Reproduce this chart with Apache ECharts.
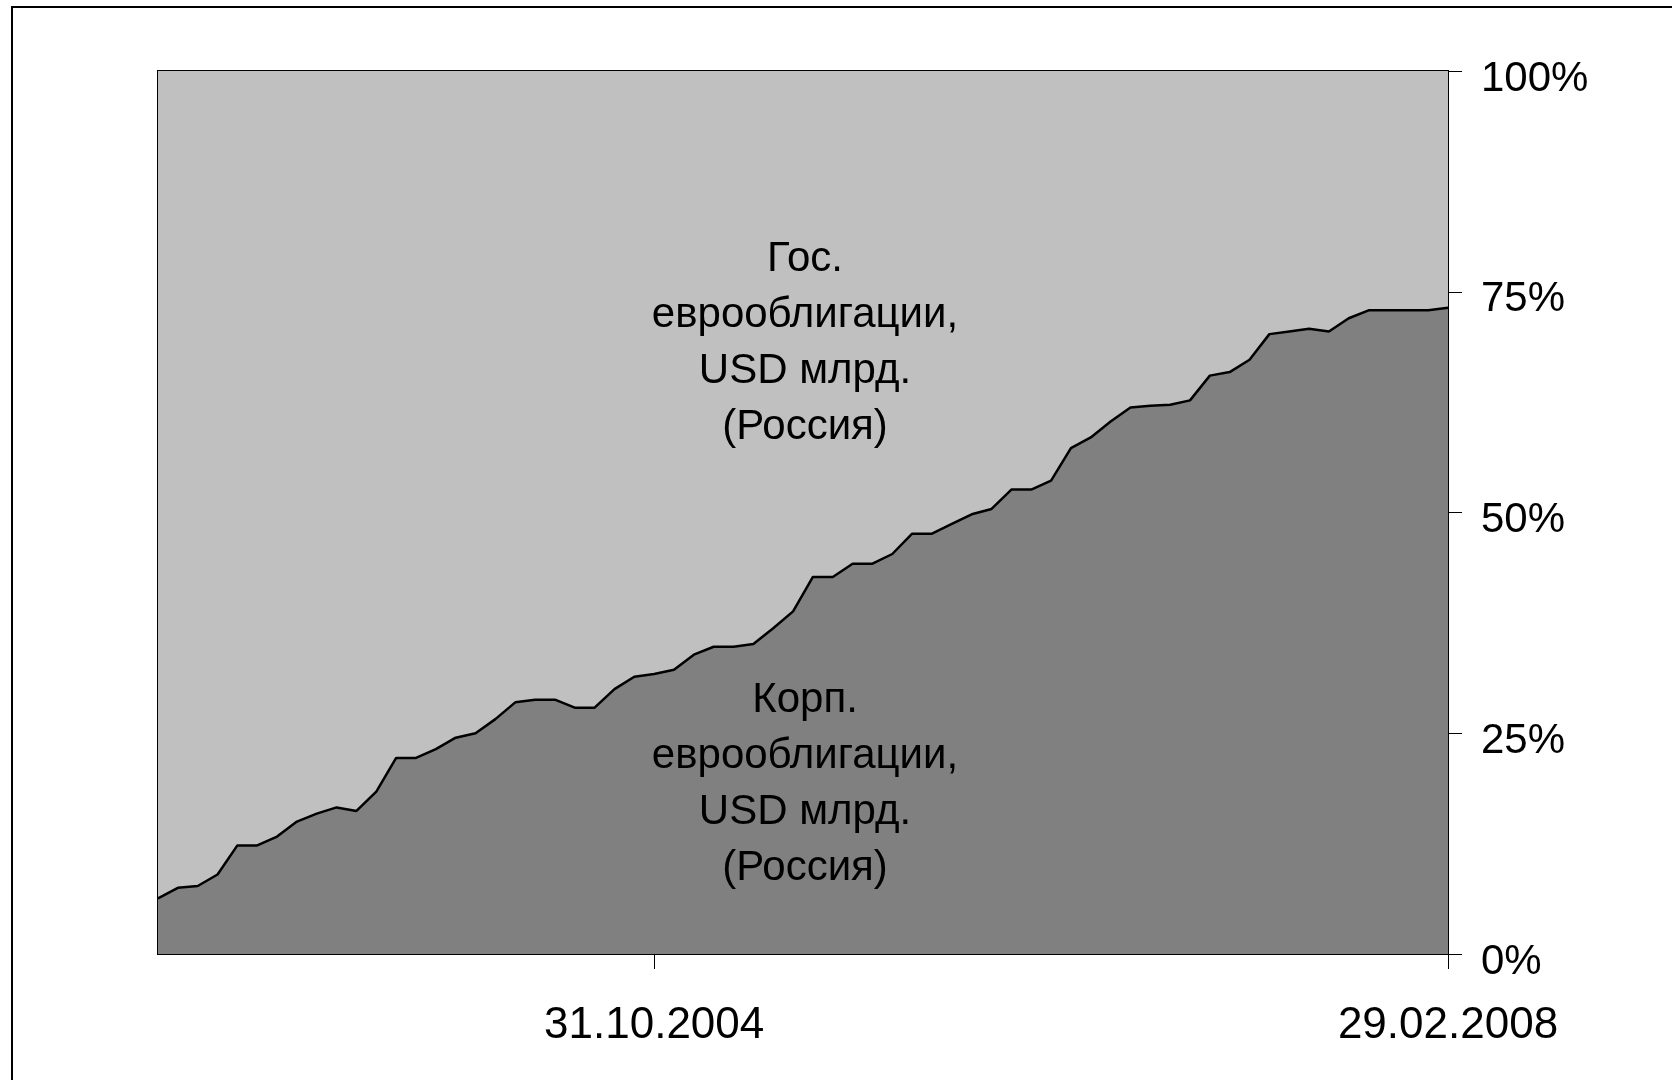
<!DOCTYPE html>
<html>
<head>
<meta charset="utf-8">
<title>Еврооблигации</title>
<script src="https://cdn.jsdelivr.net/npm/echarts@6/dist/echarts.min.js"></script>
<style>
  html, body { margin: 0; padding: 0; background: #fff; }
  #chart { width: 1672px; height: 1080px; }
</style>
</head>
<body>
<div id="chart"></div>
<script>
// month-end dates
const dates = [
  '30.09.2002', '31.10.2002', '30.11.2002', '31.12.2002',
  '31.01.2003', '28.02.2003', '31.03.2003', '30.04.2003', '31.05.2003', '30.06.2003',
  '31.07.2003', '31.08.2003', '30.09.2003', '31.10.2003', '30.11.2003', '31.12.2003',
  '31.01.2004', '29.02.2004', '31.03.2004', '30.04.2004', '31.05.2004', '30.06.2004',
  '31.07.2004', '31.08.2004', '30.09.2004', '31.10.2004', '30.11.2004', '31.12.2004',
  '31.01.2005', '28.02.2005', '31.03.2005', '30.04.2005', '31.05.2005', '30.06.2005',
  '31.07.2005', '31.08.2005', '30.09.2005', '31.10.2005', '30.11.2005', '31.12.2005',
  '31.01.2006', '28.02.2006', '31.03.2006', '30.04.2006', '31.05.2006', '30.06.2006',
  '31.07.2006', '31.08.2006', '30.09.2006', '31.10.2006', '30.11.2006', '31.12.2006',
  '31.01.2007', '28.02.2007', '31.03.2007', '30.04.2007', '31.05.2007', '30.06.2007',
  '31.07.2007', '31.08.2007', '30.09.2007', '31.10.2007', '30.11.2007', '31.12.2007',
  '31.01.2008', '29.02.2008'
]
// labelled dates on the x axis
const shownDates = ['31.10.2004', '29.02.2008']

// share of corporate eurobonds, %
const corpShare = [
  6.3, 7.5, 7.7, 9.0, 12.3, 12.3, 13.3, 15.0, 15.9, 16.6,
  16.2, 18.4, 22.2, 22.2, 23.2, 24.5, 25.0, 26.6, 28.5, 28.8,
  28.8, 27.9, 27.9, 30.0, 31.4, 31.7, 32.2, 33.9, 34.8, 34.8,
  35.1, 36.9, 38.8, 42.7, 42.7, 44.2, 44.2, 45.3, 47.6, 47.6,
  48.7, 49.8, 50.4, 52.6, 52.6, 53.6, 57.3, 58.5, 60.3, 61.9,
  62.1, 62.2, 62.7, 65.5, 65.9, 67.3, 70.2, 70.5, 70.8, 70.5,
  72.0, 72.9, 72.9, 72.9, 72.9, 73.2
]
// share of sovereign eurobonds, %
const govShare = [
  93.7, 92.5, 92.3, 91.0, 87.7, 87.7, 86.7, 85.0, 84.1, 83.4,
  83.8, 81.6, 77.8, 77.8, 76.8, 75.5, 75.0, 73.4, 71.5, 71.2,
  71.2, 72.1, 72.1, 70.0, 68.6, 68.3, 67.8, 66.1, 65.2, 65.2,
  64.9, 63.1, 61.2, 57.3, 57.3, 55.8, 55.8, 54.7, 52.4, 52.4,
  51.3, 50.2, 49.6, 47.4, 47.4, 46.4, 42.7, 41.5, 39.7, 38.1,
  37.9, 37.8, 37.3, 34.5, 34.1, 32.7, 29.8, 29.5, 29.2, 29.5,
  28.0, 27.1, 27.1, 27.1, 27.1, 26.8
]
const yTicks = [0, 25, 50, 75, 100]

const govLabel = 'Гос.\nеврооблигации,\nUSD млрд.\n(Россия)'
const corpLabel = 'Корп.\nеврооблигации,\nUSD млрд.\n(Россия)'

const font = '"Liberation Sans", Arial, sans-serif'
const isShown = (i) => shownDates.includes(dates[i])

const chart = echarts.init(document.getElementById('chart'))
chart.setOption({
  animation: false,
  textStyle: { fontFamily: font, color: '#000' },
  grid: {
    left: 158,
    right: 224,
    top: 71,
    bottom: 126,
    show: true,
    borderColor: '#000',
    borderWidth: 2,
    backgroundColor: 'transparent'
  },
  xAxis: {
    type: 'category',
    data: dates,
    boundaryGap: false,
    axisLine: { lineStyle: { color: '#000', width: 2 } },
    axisTick: {
      interval: isShown,
      length: 15,
      lineStyle: { color: '#000', width: 1 }
    },
    axisLabel: {
      interval: isShown,
      showMaxLabel: true,
      margin: 50,
      color: '#000',
      fontSize: 44,
      fontFamily: font
    },
    splitLine: { show: false }
  },
  yAxis: {
    type: 'value',
    position: 'right',
    min: yTicks[0],
    max: yTicks[yTicks.length - 1],
    interval: 25,
    axisLine: { show: true, lineStyle: { color: '#000', width: 2 } },
    axisTick: { show: true, length: 14, lineStyle: { color: '#000', width: 1 } },
    axisLabel: {
      formatter: '{value}%',
      margin: 33,
      color: '#000',
      fontSize: 42,
      fontFamily: font,
      verticalAlign: 'top',
      padding: [-13, 0, 0, 0]
    },
    splitLine: { show: false }
  },
  series: [
    {
      name: 'Корп. еврооблигации',
      type: 'line',
      stack: 'total',
      data: corpShare,
      showSymbol: false,
      z: 4,
      lineStyle: { color: '#000', width: 2.5 },
      areaStyle: { color: '#808080', opacity: 1 }
    },
    {
      name: 'Гос. еврооблигации',
      type: 'line',
      stack: 'total',
      data: govShare,
      showSymbol: false,
      z: 3,
      lineStyle: { width: 0 },
      areaStyle: { color: '#c0c0c0', opacity: 1 }
    }
  ],
  graphic: [
    {
      type: 'rect',
      z: 100,
      shape: { x: 12, y: 7, width: 1700, height: 1100 },
      style: { fill: 'none', stroke: '#000', lineWidth: 2 }
    },
    {
      type: 'text',
      z: 100,
      x: 805,
      y: 343,
      style: {
        text: govLabel,
        font: '42px ' + font,
        fill: '#000',
        align: 'center',
        verticalAlign: 'middle',
        lineHeight: 56
      }
    },
    {
      type: 'text',
      z: 100,
      x: 805,
      y: 784,
      style: {
        text: corpLabel,
        font: '42px ' + font,
        fill: '#000',
        align: 'center',
        verticalAlign: 'middle',
        lineHeight: 56
      }
    }
  ]
})
</script>
</body>
</html>
